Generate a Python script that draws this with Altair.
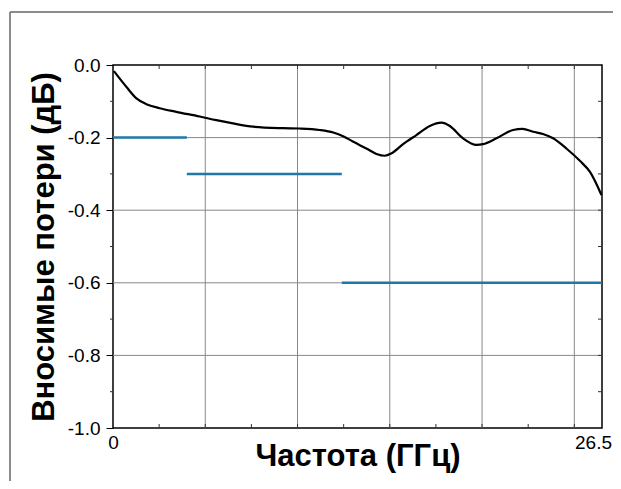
import altair as alt
import pandas as pd

# Measured insertion loss curve (GHz, dB)
freq = [0.05, 0.72, 1.27, 1.81, 2.53, 3.43, 4.7, 5.6, 6.5, 7.6, 9.2, 10.12, 11.2, 11.94,
        12.47, 13.0, 13.73, 14.28, 14.73, 15.1, 15.72, 16.44, 17.17, 17.8, 18.25, 18.97,
        19.7, 20.05, 20.78, 21.68, 22.2, 22.77, 23.3, 23.85, 24.57, 25.3, 25.84, 26.47]
loss = [-0.017, -0.060, -0.092, -0.108, -0.119, -0.129, -0.142, -0.152, -0.161, -0.170,
        -0.174, -0.175, -0.179, -0.186, -0.196, -0.211, -0.230, -0.245, -0.250, -0.243,
        -0.218, -0.193, -0.168, -0.159, -0.168, -0.202, -0.220, -0.218, -0.202, -0.179,
        -0.176, -0.184, -0.190, -0.202, -0.230, -0.264, -0.294, -0.358]

# Specification limit segments
spec_start = [0.0, 4.0, 12.4]
spec_end = [4.0, 12.4, 26.5]
spec_level = [-0.2, -0.3, -0.6]

x_labels = [0, 26.5]
x_grid = [5, 10, 15, 20, 25]
x_minor = [2.5, 5, 7.5, 10, 12.5, 15, 17.5, 20, 22.5, 25]
y_major = [0.0, -0.2, -0.4, -0.6, -0.8, -1.0]
y_grid = [-0.2, -0.4, -0.6, -0.8]
y_minor = [-0.1, -0.2, -0.3, -0.4, -0.5, -0.6, -0.7, -0.8, -0.9]
y_minor_out = [-0.1, -0.3, -0.5, -0.7, -0.9]

FONT = "Liberation Sans"
W, H = 489, 363

xs = alt.Scale(domain=[0, 26.5], nice=False, zero=False)
ys = alt.Scale(domain=[-1, 0], nice=False, zero=False)

x_axis = alt.Axis(
    values=x_labels, labelExpr="datum.value + ''", ticks=False, domain=False, grid=False,
    labelFontSize=19, labelFont=FONT, labelColor="black", labelPadding=5,
    labelFlush=False, labelOffset={"expr": "datum.value > 20 ? -9 : 0"},
    title="Частота (ГГц)", titleFont=FONT, titleFontSize=31, titleFontWeight="bold",
    titleColor="black", titleBaseline="alphabetic", titleY=37, titleX=W / 2)
y_axis = alt.Axis(
    values=y_major, format=".1f", labelExpr="replace(datum.label, '\u2212', '-')",
    tickSize=7, tickColor="black", domain=False, grid=False,
    labelFontSize=19, labelFont=FONT, labelColor="black", labelPadding=6,
    labelFlush=False,
    title="Вносимые потери (дБ)", titleFont=FONT, titleFontSize=31,
    titleFontWeight="bold", titleColor="black", titleAngle=270,
    titleBaseline="alphabetic", titleX=-60, titleY=H / 2, titleAlign="center")

curve_df = pd.DataFrame({"f": freq, "l": loss})
spec_df = pd.DataFrame({"s": spec_start, "e": spec_end, "v": spec_level})
xgrid_df = pd.DataFrame({"f": x_grid})
ygrid_df = pd.DataFrame({"l": y_grid})
xminor_df = pd.DataFrame({"f": x_minor})
yminor_df = pd.DataFrame({"l": y_minor})
yminor_out_df = pd.DataFrame({"l": y_minor_out})
one = pd.DataFrame({"a": [0]})

X = lambda fld: alt.X(fld, scale=xs, axis=x_axis)
Y = lambda fld: alt.Y(fld, scale=ys, axis=y_axis)

vgrid = alt.Chart(xgrid_df).mark_rule(color="#888", strokeWidth=1).encode(
    x=X("f:Q"), y=alt.value(0), y2=alt.value(H))
hgrid = alt.Chart(ygrid_df).mark_rule(color="#888", strokeWidth=1).encode(
    y=Y("l:Q"), x=alt.value(0), x2=alt.value(W))

top_ticks = alt.Chart(xminor_df).mark_rule(color="#333", strokeWidth=1).encode(
    x=X("f:Q"), y=alt.value(0), y2=alt.value(4))
bot_ticks = alt.Chart(xminor_df).mark_rule(color="#333", strokeWidth=1).encode(
    x=X("f:Q"), y=alt.value(H - 4), y2=alt.value(H))
right_ticks = alt.Chart(yminor_df).mark_rule(color="#333", strokeWidth=1).encode(
    y=Y("l:Q"), x=alt.value(W - 4), x2=alt.value(W))
left_minor = alt.Chart(yminor_out_df).mark_rule(color="#333", strokeWidth=1).encode(
    y=Y("l:Q"), x=alt.value(-3), x2=alt.value(0))

spec = alt.Chart(spec_df).mark_rule(color="#1f78a8", strokeWidth=2.5).encode(
    x=X("s:Q"), x2="e:Q", y=Y("v:Q"))

curve = alt.Chart(curve_df).mark_line(color="black", strokeWidth=2.2, interpolate="monotone").encode(
    x=X("f:Q"), y=Y("l:Q"))

frame_top = alt.Chart(one).mark_rule(color="#666", strokeWidth=1.5).encode(
    x=alt.value(-103), x2=alt.value(530), y=alt.value(-53))
frame_left = alt.Chart(one).mark_rule(color="#666", strokeWidth=1.5).encode(
    x=alt.value(-103), y=alt.value(-53), y2=alt.value(450))

chart = alt.layer(
    vgrid, hgrid, top_ticks, bot_ticks, right_ticks, left_minor,
    spec, curve, frame_top, frame_left
).properties(
    width=W, height=H,
    autosize=alt.AutoSizeParams(type="none"),
    padding={"left": 105, "top": 57, "right": 11, "bottom": 53},
    background="white",
).configure_view(stroke="black", strokeWidth=1.5)

chart.save("out.html", embed_options={"renderer": "svg", "actions": False})
